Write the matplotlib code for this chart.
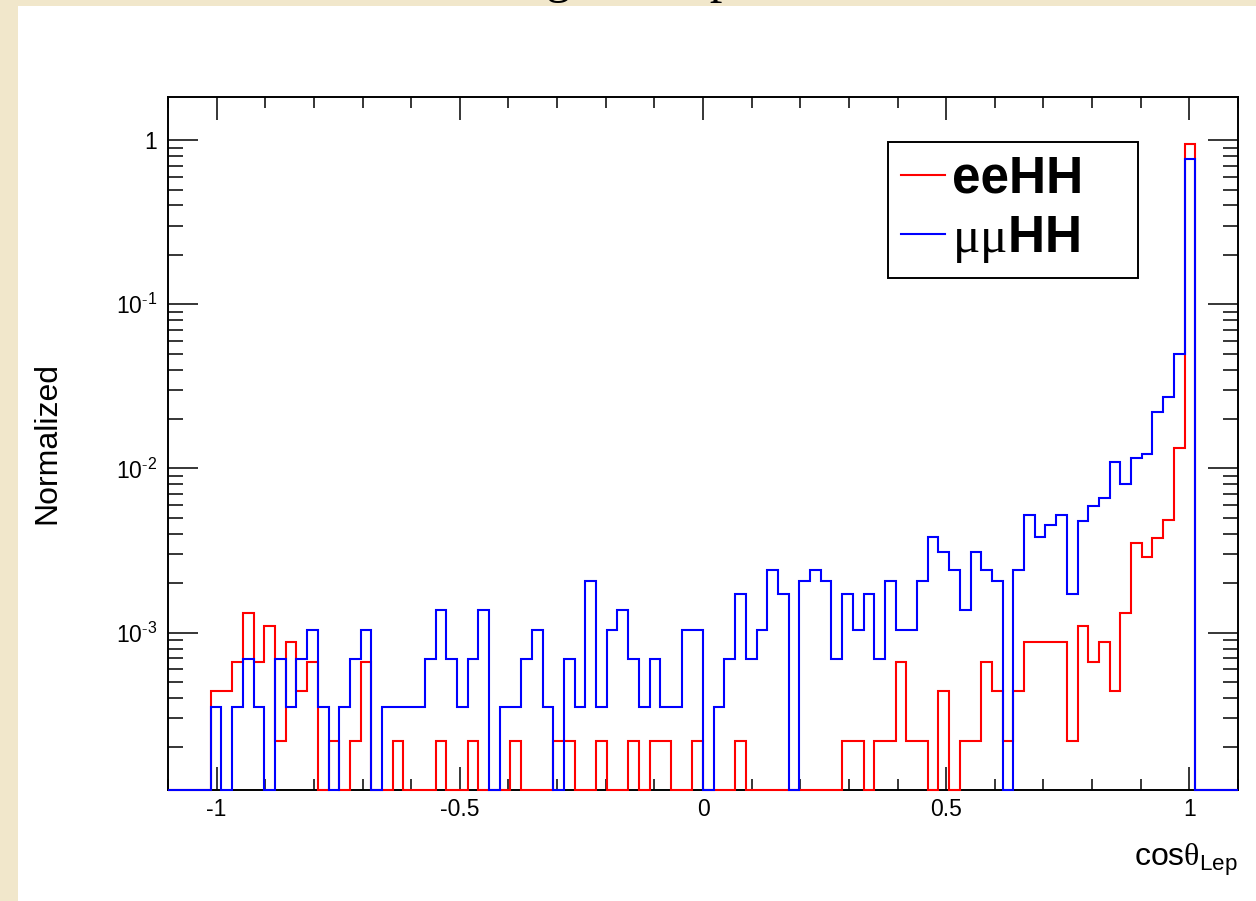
import numpy as np
import matplotlib
matplotlib.use("Agg")
import matplotlib.pyplot as plt
from matplotlib.patches import Rectangle
from matplotlib.ticker import FixedLocator, FixedFormatter, MultipleLocator, LogLocator, NullFormatter

plt.rcParams["font.family"] = "Liberation Sans"
plt.rcParams["mathtext.fontset"] = "custom"
plt.rcParams["mathtext.rm"] = "Liberation Serif"
plt.rcParams["mathtext.sf"] = "Liberation Sans"
plt.rcParams["axes.unicode_minus"] = False

# histogram binning (ROOT TH1: 100 bins on [-1.1, 1.1]); bins 4..95 carry the data
n_bins = 100
x_lo, x_hi = -1.1, 1.1
first_bin = 4

# normalized contents of bins 4..95
ee_hh = [4.4e-4, 4.4e-4, 6.6e-4, 1.32e-3, 6.6e-4, 1.1e-3, 2.2e-4, 8.8e-4, 4.4e-4, 6.6e-4,
         0, 2.2e-4, 0, 2.2e-4, 6.6e-4, 0, 0, 2.2e-4, 0, 0,
         0, 2.2e-4, 0, 0, 2.2e-4, 0, 0, 0, 2.2e-4, 0,
         0, 0, 2.2e-4, 2.2e-4, 0, 0, 2.2e-4, 0, 0, 2.2e-4,
         0, 2.2e-4, 2.2e-4, 0, 0, 2.2e-4, 0, 0, 0, 2.2e-4,
         0, 0, 0, 0, 0, 0, 0, 0, 0, 2.2e-4,
         2.2e-4, 0, 2.2e-4, 2.2e-4, 6.6e-4, 2.2e-4, 2.2e-4, 0, 4.4e-4, 0,
         2.2e-4, 2.2e-4, 6.6e-4, 4.4e-4, 2.2e-4, 4.4e-4, 8.8e-4, 8.8e-4, 8.8e-4, 8.8e-4,
         2.2e-4, 1.1e-3, 6.6e-4, 8.8e-4, 4.4e-4, 1.32e-3, 3.52e-3, 2.88e-3, 3.75e-3, 4.86e-3,
         1.33e-2, 0.95]

mumu_hh = [3.5e-4, 0, 3.5e-4, 6.9e-4, 3.5e-4, 0, 6.9e-4, 3.5e-4, 6.9e-4, 1.04e-3,
           3.5e-4, 0, 3.5e-4, 6.9e-4, 1.04e-3, 0, 3.5e-4, 3.5e-4, 3.5e-4, 3.5e-4,
           6.9e-4, 1.38e-3, 6.9e-4, 3.5e-4, 6.9e-4, 1.38e-3, 0, 3.5e-4, 3.5e-4, 6.9e-4,
           1.04e-3, 3.5e-4, 0, 6.9e-4, 3.5e-4, 2.07e-3, 3.5e-4, 1.04e-3, 1.38e-3, 6.9e-4,
           3.5e-4, 6.9e-4, 3.5e-4, 3.5e-4, 1.04e-3, 1.04e-3, 0, 3.5e-4, 6.9e-4, 1.73e-3,
           6.9e-4, 1.04e-3, 2.42e-3, 1.73e-3, 0, 2.07e-3, 2.42e-3, 2.07e-3, 6.9e-4, 1.73e-3,
           1.04e-3, 1.73e-3, 6.9e-4, 2.07e-3, 1.04e-3, 1.04e-3, 2.07e-3, 3.8e-3, 3.1e-3, 2.42e-3,
           1.38e-3, 3.1e-3, 2.42e-3, 2.07e-3, 0, 2.42e-3, 5.2e-3, 3.8e-3, 4.5e-3, 5.2e-3,
           1.73e-3, 4.8e-3, 5.9e-3, 6.6e-3, 1.09e-2, 8.0e-3, 1.16e-2, 1.23e-2, 2.2e-2, 2.72e-2,
           4.96e-2, 0.762]

labels = ["eeHH", r"$\mathrm{\mu\mu}$HH"]
colors = ["#ff0000", "#0000ff"]
y_lo, y_hi = 1.1e-4, 1.83

edges = np.linspace(x_lo, x_hi, n_bins + 1)


def full_hist(vals):
    h = np.zeros(n_bins)
    h[first_bin:first_bin + len(vals)] = vals
    # empty bins sit on the frame, as ROOT draws them on a log axis
    return np.maximum(h, y_lo)


W, H = 1256, 901
fig = plt.figure(figsize=(W / 100, H / 100), dpi=100, facecolor="#f1e7cb")
fig.patches.append(Rectangle((18 / W, 0), 1, (H - 6) / H, transform=fig.transFigure,
                             facecolor="white", edgecolor="none", zorder=-5))
# canvas title, mostly cut off by the top of the image
fig.text(642 / W, 1 + 8 / H, "Angle of lepton", family="Liberation Serif", size=36,
         ha="center", va="baseline")

ax = fig.add_axes([168 / W, 1 - 790 / H, (1238 - 168) / W, (790 - 97) / H])
ax.set_zorder(2)

for vals, lab, col in zip([ee_hh, mumu_hh], labels, colors):
    ax.stairs(full_hist(vals), edges, baseline=y_lo, color=col, lw=1.5,
              label=lab, zorder=3, clip_on=False)

ax.set_yscale("log")
ax.set_xlim(x_lo, x_hi)
ax.set_ylim(y_lo, y_hi)

ax.xaxis.set_major_locator(FixedLocator([-1, -0.5, 0, 0.5, 1]))
ax.xaxis.set_major_formatter(FixedFormatter(["-1", "-0.5", "0", "0.5", "1"]))
ax.xaxis.set_minor_locator(MultipleLocator(0.1))
ax.yaxis.set_major_locator(FixedLocator([1e-3, 1e-2, 1e-1, 1]))
ax.yaxis.set_major_formatter(FixedFormatter([r"$\mathdefault{10^{\text{-}3}}$",
                                             r"$\mathdefault{10^{\text{-}2}}$",
                                             r"$\mathdefault{10^{\text{-}1}}$", "1"]))
ax.yaxis.set_minor_locator(LogLocator(base=10, subs=np.arange(2, 10), numticks=20))
ax.yaxis.set_minor_formatter(NullFormatter())

ax.tick_params(which="both", direction="in", top=True, right=True, width=1.1, labelsize=16.5)
ax.tick_params(axis="x", which="major", length=16.5, pad=6)
ax.tick_params(axis="x", which="minor", length=8)
ax.tick_params(axis="y", which="major", length=21.5, pad=8)
ax.tick_params(axis="y", which="minor", length=10.5)
for sp in ax.spines.values():
    sp.set_linewidth(1.4)

ax.set_xlabel(r"cos$\mathrm{\theta}_{\mathsf{Lep}}$", fontsize=23, loc="right")
ax.xaxis.set_label_coords(1.0, -0.075)
ax.set_ylabel("Normalized", fontsize=23)
ax.yaxis.set_label_coords(-0.099, 0.5)

leg = ax.legend(loc="upper left", bbox_to_anchor=(0.673, 0.74, 0.2335, 0.195), mode="expand",
                borderaxespad=0, prop={"weight": "bold", "size": 37}, fancybox=False,
                framealpha=1, edgecolor="black", handlelength=0.85, handletextpad=0.15,
                borderpad=0.25, labelspacing=0.2)
leg.get_frame().set_linewidth(1.4)

fig.savefig("out.png", dpi=100, facecolor=fig.get_facecolor())
